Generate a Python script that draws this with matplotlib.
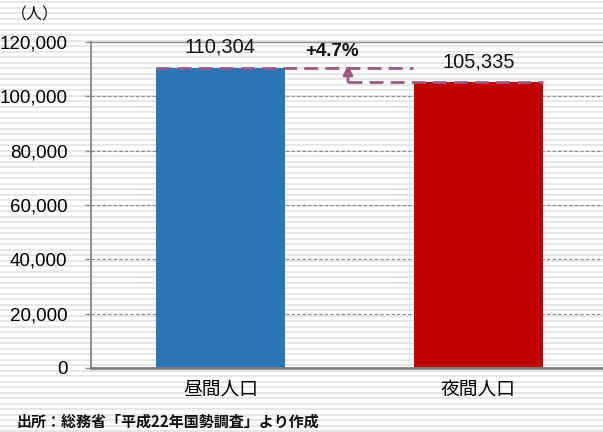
import numpy as np
import matplotlib
matplotlib.use("Agg")
import matplotlib.pyplot as plt

# Data
categories = ["昼間人口", "夜間人口"]
population = [110304, 105335]
bar_colors = ["#2e75b6", "#c00000"]
change_label = "+4.7%"
yticks = [0, 20000, 40000, 60000, 80000, 100000, 120000]
unit_label = "（人）"
source_note = "出所：総務省「平成22年国勢調査」より作成"

W, H, DPI = 603, 432, 100
fig = plt.figure(figsize=(W / DPI, H / DPI), dpi=DPI)
fig.patch.set_facecolor("white")

JP = ["Noto Sans CJK JP", "DejaVu Sans"]
NUM = ["Liberation Sans", "DejaVu Sans"]

# Striped backdrop across the whole figure
bg = fig.add_axes([0, 0, 1, 1], zorder=-10)
bg.set_xlim(0, W)
bg.set_ylim(H, 0)
bg.axis("off")
for yp in np.arange(2.0, H, 5.5):
    bg.plot([0, W], [yp, yp], color="#e2e2e2", lw=1.2, solid_capstyle="butt")

# Main plot area
left_px, right_px, top_px, bottom_px = 91, 603, 42, 368
ax = fig.add_axes([left_px / W, (H - bottom_px) / H,
                   (right_px - left_px) / W, (bottom_px - top_px) / H])
ax.patch.set_alpha(0)

unit = 258.0
x0 = -(220.5 - left_px) / unit
ax.set_xlim(x0, x0 + (right_px - left_px) / unit)
ax.set_ylim(0, 120000)

xs = np.arange(len(categories))
bar_w = 0.5
ax.bar(xs, population, width=bar_w, color=bar_colors, zorder=3)

# Grid
for v in yticks[1:-1]:
    ax.axhline(v, color="#8a8a8a", lw=0.8, ls=(0, (3, 2)), zorder=1)

ax.spines["right"].set_visible(False)
ax.spines["top"].set_color("#8c8c8c")
ax.spines["top"].set_linewidth(1.0)
ax.spines["left"].set_color("#8c8c8c")
ax.spines["left"].set_linewidth(1.4)
ax.spines["bottom"].set_color("#7f7f7f")
ax.spines["bottom"].set_linewidth(2.0)
ax.spines["bottom"].set_zorder(4)

ax.set_yticks(yticks)
ax.set_yticklabels([f"{v:,}" for v in yticks], fontfamily=NUM, fontsize=13.5)
ax.tick_params(axis="y", length=4, width=1, color="#8c8c8c", pad=13)
ax.set_xticks(xs)
ax.set_xticklabels(categories, fontfamily=JP, fontsize=13.5)
ax.tick_params(axis="x", length=0, pad=8)

# Value labels
label_y = [118270, 112750]
for x, v, ly in zip(xs, population, label_y):
    ax.text(x, ly, f"{v:,}", ha="center", va="center",
            fontfamily=NUM, fontsize=14.5, color="#111111", zorder=5)

# Difference marker
pc = "#9a5a83"
arrow_x = (348 - 220.5) / unit
ax.plot([-bar_w / 2, (413 - 220.5) / unit], [population[0]] * 2,
        color=pc, lw=2, ls=(0, (5, 2.6)), zorder=5)
ax.plot([arrow_x, 1 + bar_w / 2], [population[1]] * 2,
        color=pc, lw=2, ls=(0, (5, 2.6)), zorder=5)
ax.annotate("", xy=(arrow_x, population[0] + 1200), xytext=(arrow_x, population[1]),
            arrowprops=dict(arrowstyle="-|>", color=pc, lw=2,
                            mutation_scale=14, shrinkA=0, shrinkB=0),
            zorder=6)
ax.text((332.5 - 220.5) / unit, 116430, change_label, ha="center", va="center",
        fontfamily=NUM, fontsize=13.5, fontweight="bold", color="#111111", zorder=5)

# Unit and source note
fig.text(11 / W, 1 - 15 / H, unit_label, ha="left", va="center",
         fontfamily=JP, fontsize=11.5, color="#111111")
fig.text(16 / W, 1 - 421.5 / H, source_note, ha="left", va="center",
         fontfamily=JP, fontsize=10.8, fontweight="bold", color="#111111")

fig.savefig("out.png", dpi=DPI)
